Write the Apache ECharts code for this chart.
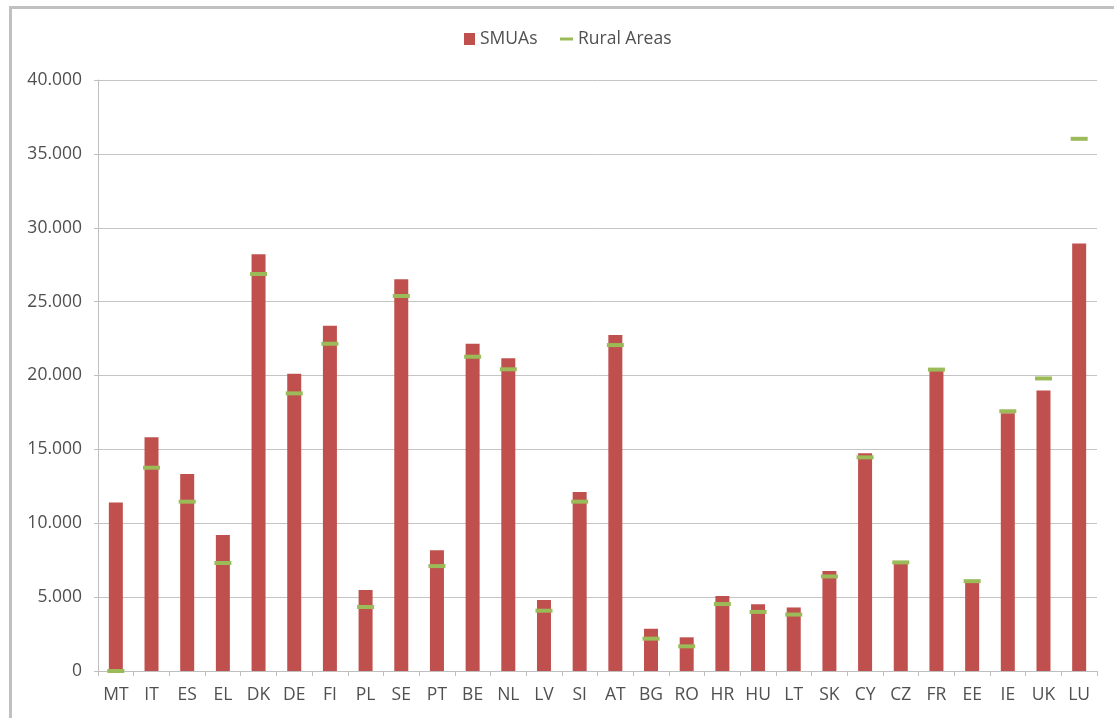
<!DOCTYPE html>
<html>
<head>
<meta charset="utf-8">
<script src="https://cdn.jsdelivr.net/npm/echarts@6/dist/echarts.min.js"></script>
<style>
html,body{margin:0;padding:0;background:#fff;}
#chart{width:1114px;height:718px;}
</style>
</head>
<body>
<div id="chart"></div>
<script>
var categories = ['MT','IT','ES','EL','DK','DE','FI','PL','SE','PT','BE','NL','LV','SI','AT','BG','RO','HR','HU','LT','SK','CY','CZ','FR','EE','IE','UK','LU'];
var smuas = [11400,15820,13330,9200,28200,20120,23370,5480,26510,8170,22150,21160,4800,12110,22740,2860,2280,5080,4520,4300,6760,14740,7250,20300,5950,17450,18980,28930];
var rural = [0,13760,11460,7310,26870,18790,22150,4330,25380,7100,21270,20420,4080,11460,22060,2190,1670,4530,4000,3820,6400,14460,7350,20400,6080,17580,19800,36020];
var yTicks = [0,5000,10000,15000,20000,25000,30000,35000,40000];

var FONT = '"Open Sans", Lato, sans-serif';
var TEXT = '#505050';
var FS = 17.5;
var chart = echarts.init(document.getElementById('chart'));
chart.setOption({
  backgroundColor: '#fff',
  animation: false,
  textStyle: {fontFamily: FONT},
  graphic: [{
    type: 'polyline',
    shape: {points: [[10.5, 718], [10.5, 7.5], [1114, 7.5]]},
    style: {stroke: '#c0c0c0', lineWidth: 3, fill: null},
    silent: true
  }],
  legend: [{
    data: [{name: 'SMUAs', icon: 'rect'}],
    left: 459, top: 25,
    itemWidth: 11, itemHeight: 12,
    textStyle: {fontFamily: FONT, fontSize: FS, color: TEXT}
  }, {
    data: [{name: 'Rural Areas', icon: 'rect'}],
    left: 555, top: 25,
    itemWidth: 13, itemHeight: 3,
    textStyle: {fontFamily: FONT, fontSize: FS, color: TEXT}
  }],
  grid: {left: 98, right: 17, top: 80, bottom: 47, containLabel: false},
  xAxis: {
    type: 'category',
    data: categories,
    axisLine: {lineStyle: {color: '#bfbfbf', width: 1}},
    axisTick: {show: true, length: 5, lineStyle: {color: '#bfbfbf'}},
    axisLabel: {fontFamily: FONT, fontSize: FS, color: TEXT, margin: 15, interval: 0}
  },
  yAxis: {
    type: 'value',
    min: 0, max: 40000, interval: 5000,
    axisLine: {show: true, lineStyle: {color: '#bfbfbf'}},
    axisTick: {show: true, length: 4, lineStyle: {color: '#bfbfbf'}},
    splitLine: {lineStyle: {color: '#c4c4c4', width: 1}},
    axisLabel: {
      fontFamily: FONT, fontSize: FS, color: TEXT, margin: 16,
      formatter: function (v) { return v === 0 ? '0' : (v / 1000).toFixed(3); }
    }
  },
  series: [{
    name: 'SMUAs',
    type: 'bar',
    data: smuas,
    barWidth: 14,
    itemStyle: {color: '#C0504D'}
  }, {
    name: 'Rural Areas',
    type: 'scatter',
    data: rural,
    symbol: 'rect',
    symbolSize: [17, 4],
    itemStyle: {color: '#9BBB59', opacity: 1},
    z: 5
  }]
});
</script>
</body>
</html>
